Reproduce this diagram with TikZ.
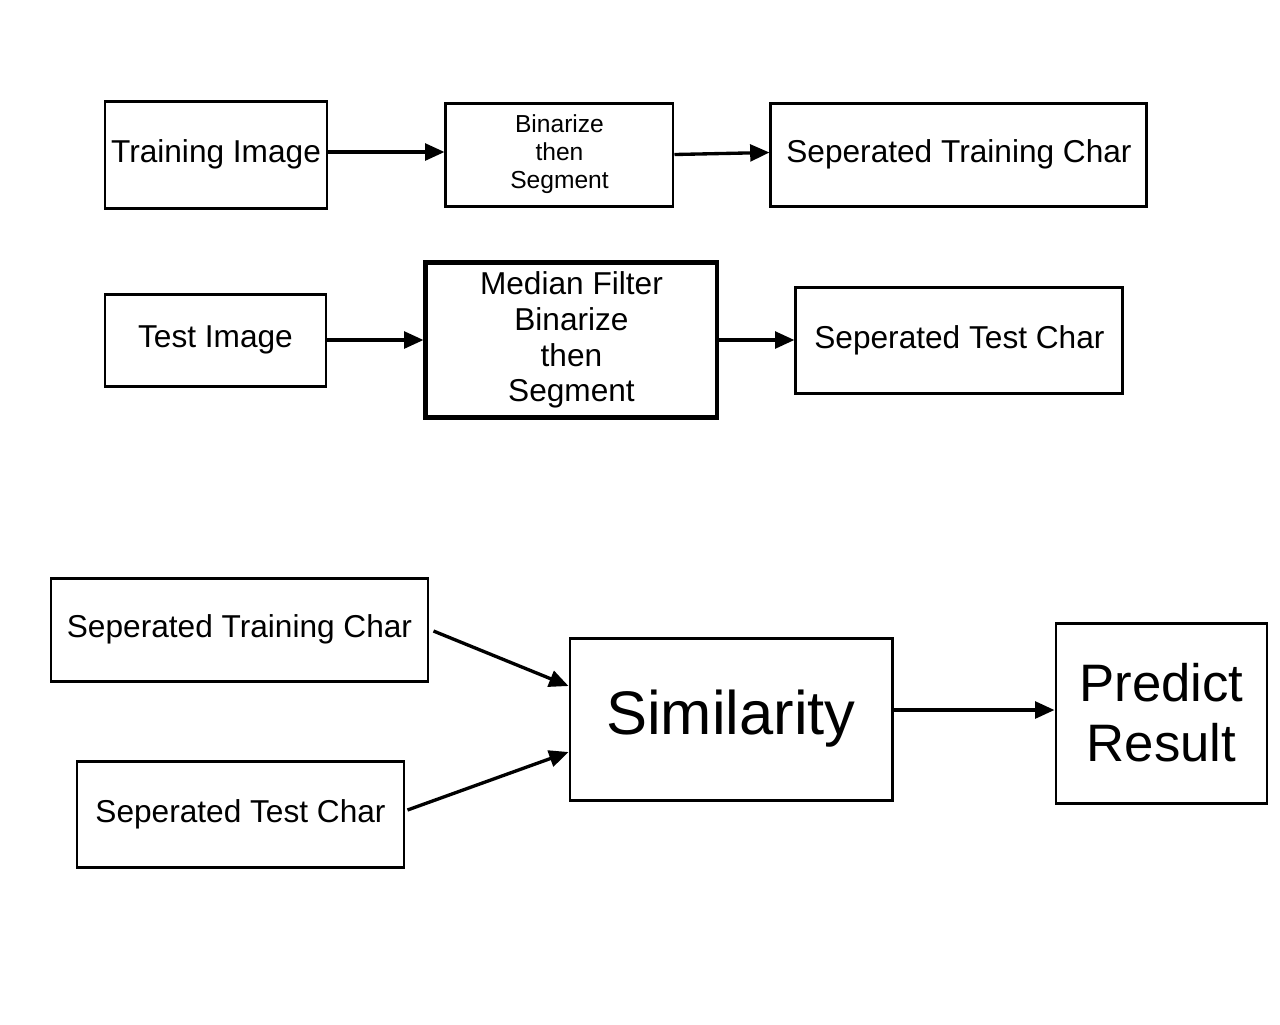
\documentclass[tikz,border=0pt]{standalone}
\usepackage{fontspec}
\setmainfont{Liberation Sans}
\usetikzlibrary{positioning,arrows.meta,calc}

\tikzset{
  box/.style={draw, line width=1.7pt, inner sep=2pt, align=center,
    font=\fontsize{18}{20.4}\selectfont},
}

\begin{document}
\begin{tikzpicture}[>={Triangle[length=11pt,width=9.5pt]},
    every edge/.append style={line width=1.9pt}]

  \useasboundingbox (0,0) rectangle (25.6,-20.48);

  % training row
  \node[box, minimum width=4.44cm, minimum height=2.14cm] (timg) at (4.32,-3.09) {Training Image};
  \node[box, minimum width=4.54cm, minimum height=2.06cm,
    font=\fontsize{14}{15.9}\selectfont] (bin) [right=2.32cm of timg] {Binarize\\then\\Segment};
  \node[box, minimum width=7.52cm, minimum height=2.06cm] (strc) [right=1.9cm of bin] {Seperated Training Char};

  % test row
  \node[box, minimum width=4.42cm, minimum height=1.84cm] (tsimg) at (4.31,-6.8) {Test Image};
  \node[box, line width=2.8pt, minimum width=5.82cm, minimum height=3.1cm] (med) [right=1.92cm of tsimg] {Median Filter\\Binarize\\then\\Segment};
  \node[box, minimum width=6.54cm, minimum height=2.12cm] (stsc) [right=1.5cm of med] {Seperated Test Char};

  % matching
  \node[box, minimum width=7.54cm, minimum height=2.06cm] (strc2) at (4.79,-12.59) {Seperated Training Char};
  \node[box, minimum width=6.54cm, minimum height=2.12cm] (stsc2) at (4.81,-16.28) {Seperated Test Char};
  \node[box, minimum width=6.44cm, minimum height=3.24cm,
    font=\fontsize{35}{40}\selectfont] (sim) at (14.62,-14.38) {Similarity};
  \node[box, minimum width=4.22cm, minimum height=3.6cm,
    font=\fontsize{30}{34}\selectfont] (pred) [right=3.22cm of sim, yshift=0.12cm] {Predict\\Result};

  \path[->] ([yshift=0.05cm]timg.east) edge ([yshift=0.05cm]bin.west);
  \path[->] (bin.east) edge ([yshift=0.04cm]strc.west);
  \path[->] (tsimg.east) edge (med.west);
  \path[->] (med.east) edge (stsc.west);
  \path[->] ([xshift=0.08cm,yshift=-0.03cm]strc2.east) edge ($(sim.north west)!0.3!(sim.south west)$);
  \path[->] ([xshift=0.04cm,yshift=0.08cm]stsc2.east) edge ($(sim.north west)!0.7!(sim.south west)$);
  \path[->] ([yshift=0.18cm]sim.east) edge ([yshift=0.06cm]pred.west);

\end{tikzpicture}
\end{document}
